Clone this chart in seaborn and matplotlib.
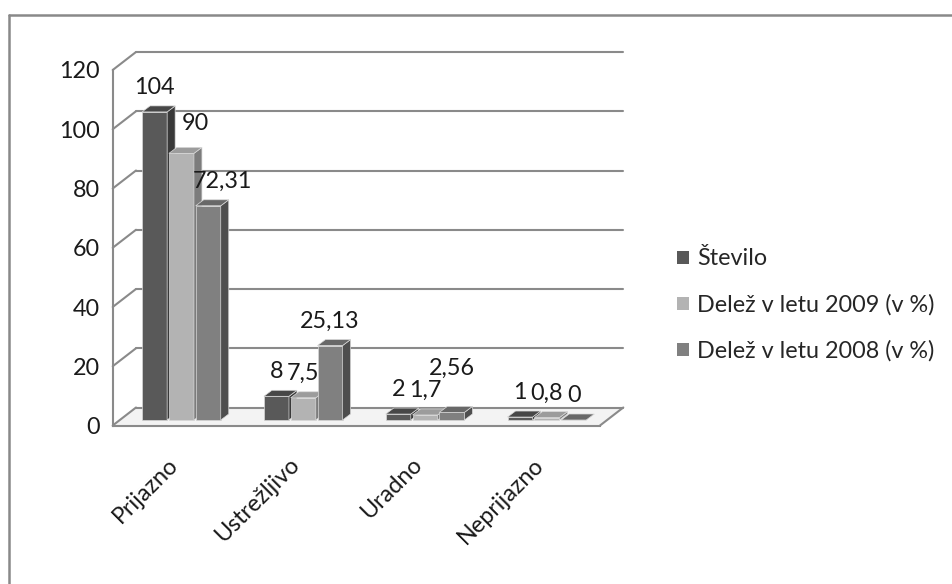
import numpy as np
import pandas as pd
import matplotlib
matplotlib.use("Agg")
import matplotlib.pyplot as plt
from matplotlib.patches import Polygon, Patch, Rectangle
from matplotlib.lines import Line2D
from matplotlib.transforms import ScaledTranslation
import seaborn as sns

# ---- data -------------------------------------------------------------
kategorije = ["Prijazno", "Ustrežljivo", "Uradno", "Neprijazno"]
serije = ["Število", "Delež v letu 2009 (v %)", "Delež v letu 2008 (v %)"]
stevilo = [104, 8, 2, 1]
delez_2009 = [90, 7.5, 1.7, 0.8]
delez_2008 = [72.31, 25.13, 2.56, 0]
y_ticks = [0, 20, 40, 60, 80, 100, 120]

df = pd.DataFrame({
    "kategorija": kategorije * len(serije),
    "serija": [s for s in serije for _ in kategorije],
    "vrednost": stevilo + delez_2009 + delez_2008,
})

# ---- style ------------------------------------------------------------
front_col = ["#595959", "#b3b3b3", "#808080"]
top_col = ["#474747", "#9c9c9c", "#686868"]
side_col = ["#393939", "#7c7c7c", "#4e4e4e"]
grid_col = "#8a8a8a"
FS = 16.8

sns.set_style("white")
plt.rcParams["font.family"] = ["Lato", "DejaVu Sans"]

W, H = 953, 584
fig = plt.figure(figsize=(W / 100, H / 100), dpi=100)
ax_l, ax_r, ax_t, ax_b = 112.7, 600.0, 70.0, 425.5
ax = fig.add_axes([ax_l / W, 1 - ax_b / H, (ax_r - ax_l) / W, (ax_b - ax_t) / H])

sns.barplot(data=df, x="kategorija", y="vrednost", hue="serija",
            order=kategorije, hue_order=serije, palette=front_col,
            saturation=1, width=0.66, gap=0.065, legend=False, ax=ax,
            edgecolor="#d8d8d8", linewidth=0.5)
ax.set_xlim(-0.5, 3.5)
ax.set_ylim(0, 120)
ax.set_xlabel("")
ax.set_ylabel("")

bars = sorted([p for p in ax.patches if isinstance(p, Rectangle)],
              key=lambda p: p.get_x())

# pixel sizes of one data unit
ppx = (ax_r - ax_l) / 4.0
ppy = (ax_b - ax_t) / 120.0


def shifted(dx_px, dy_px):
    return ax.transData + ScaledTranslation(dx_px / 100, dy_px / 100, fig.dpi_scale_trans)


# depth geometry (pixels)
back_dx, back_dy = 23.3, 18.0     # back wall relative to front plane
bar_dx, bar_dy = 7.8, 5.5         # bar front faces relative to front plane
deep_dx, deep_dy = 8.0, 6.0       # visible bar depth

bdx, bdy = back_dx / ppx, back_dy / ppy

# floor
floor = Polygon([(-0.5, 0), (3.5, 0), (3.5 + bdx, bdy), (-0.5 + bdx, bdy)],
                closed=True, facecolor="#f3f3f3", edgecolor="none",
                zorder=0.4, clip_on=False)
ax.add_patch(floor)
ax.plot([3.5, 3.5 + bdx], [0, bdy], color=grid_col, lw=1.5, zorder=0.7,
        clip_on=False, solid_capstyle="round")

# back wall gridlines and left wall diagonals
for v in y_ticks:
    ax.plot([-0.5 + bdx, 3.5 + bdx], [v + bdy, v + bdy], color=grid_col,
            lw=1.5, zorder=0.6, clip_on=False)
    ax.plot([-0.5, -0.5 + bdx], [v, v + bdy], color=grid_col,
            lw=1.5, zorder=0.6, clip_on=False)

# bars with top and side faces
n_cat = len(kategorije)
ddx, ddy = deep_dx / ppx, deep_dy / ppy
label_nudge = {(0, 1): (14, 5), (0, 2): (14, 0), (2, 2): (0, 20)}

for rank, p in enumerate(bars):
    x0 = p.get_x()
    w = p.get_width()
    h = p.get_height()
    x1 = x0 + w
    ci = int(round(x0 + w / 2))
    si = rank % len(serije)
    z = 3 + rank * 0.01
    tr = shifted(bar_dx, bar_dy)
    p.set_transform(tr)
    p.set_zorder(z)
    p.set_clip_on(False)
    topf = Polygon([(x0, h), (x1, h), (x1 + ddx, h + ddy), (x0 + ddx, h + ddy)],
                   closed=True, facecolor=top_col[si], edgecolor="#d8d8d8",
                   lw=0.5, zorder=z, transform=tr, clip_on=False)
    sidef = Polygon([(x1, 0), (x1, h), (x1 + ddx, h + ddy), (x1 + ddx, ddy)],
                    closed=True, facecolor=side_col[si], edgecolor="#d8d8d8",
                    lw=0.5, zorder=z, transform=tr, clip_on=False)
    ax.add_patch(sidef)
    ax.add_patch(topf)
    txt = f"{h:g}".replace(".", ",")
    nx, ny = label_nudge.get((ci, si), (0, 0))
    ax.annotate(txt, xy=(x0 + w / 2, h), xycoords=tr,
                xytext=(nx, 18 + ny), textcoords="offset pixels",
                ha="center", va="baseline", fontsize=FS, color="#1a1a1a",
                zorder=10, annotation_clip=False)

# axes lines and ticks
sns.despine(ax=ax, top=True, right=True)
for s in ("left", "bottom"):
    ax.spines[s].set_color(grid_col)
    ax.spines[s].set_linewidth(1.5)
ax.set_yticks(y_ticks)
ax.set_yticklabels([str(v) for v in y_ticks])
ax.tick_params(axis="y", length=6, width=1.5, color=grid_col, pad=3.5,
               labelsize=FS, labelcolor="#1a1a1a")
ax.set_xticks(range(n_cat))
ax.set_xticks([i - 0.5 for i in range(n_cat + 1)], minor=True)
ax.tick_params(axis="x", which="major", length=0, pad=26, labelsize=FS,
               labelcolor="#1a1a1a")
ax.tick_params(axis="x", which="minor", length=7.5, width=1.5, color=grid_col)
for lab in ax.get_xticklabels():
    lab.set_rotation(45)
    lab.set_ha("right")
    lab.set_va("center")
    lab.set_rotation_mode("anchor")
    lab.set_transform(lab.get_transform() + ScaledTranslation(0.01, 0, fig.dpi_scale_trans))

# legend
handles = [Patch(facecolor=c, edgecolor="none") for c in front_col]
fig.legend(handles, serije, loc="center left", bbox_to_anchor=(677 / W, 1 - 305 / H),
           frameon=False, fontsize=FS, handlelength=0.5, handleheight=0.5,
           handletextpad=0.35, labelspacing=1.05, borderpad=0, borderaxespad=0)

# outer frame
fig.add_artist(Line2D([9 / W, 1.0], [1 - 15 / H, 1 - 15 / H], color="#898989", lw=1.8,
                      transform=fig.transFigure))
fig.add_artist(Line2D([9 / W, 9 / W], [0.0, 1 - 15 / H], color="#898989", lw=1.8,
                      transform=fig.transFigure))

fig.savefig("out.png", dpi=100, facecolor="white")
